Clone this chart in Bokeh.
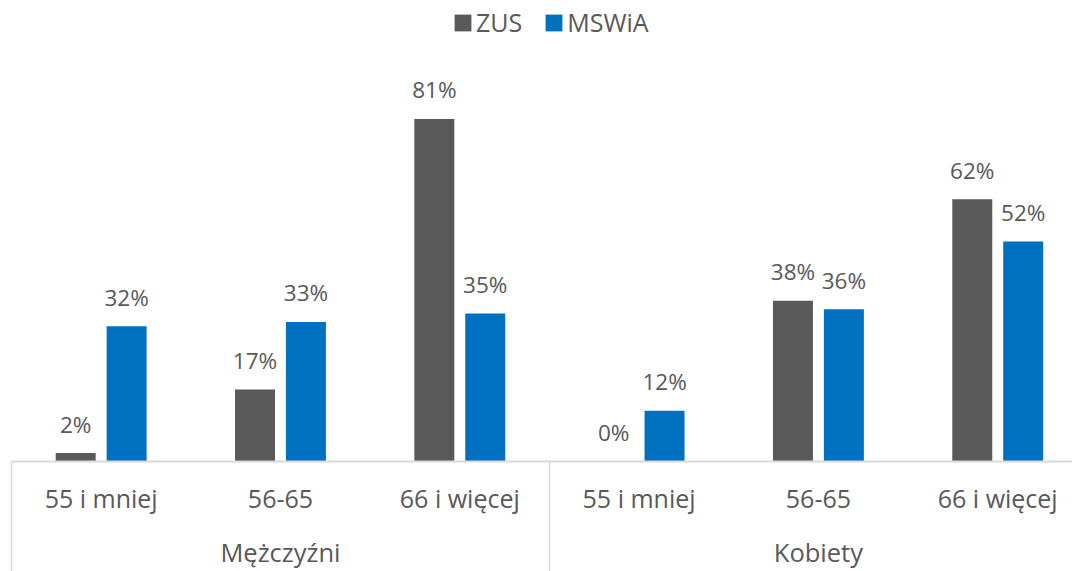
from bokeh.plotting import figure
from bokeh.models import (Range1d, LinearAxis, FixedTicker, Legend, LegendItem,
                          ColumnDataSource)
from bokeh.core.properties import value
from bokeh.embed import file_html
from bokeh.resources import INLINE

# ---- data ----
age_labels = ["55 i mniej", "56-65", "66 i więcej", "55 i mniej", "56-65", "66 i więcej"]
group_labels = ["Mężczyźni", "Kobiety"]
zus = [2, 17, 81, 0, 38, 62]
mswia = [32, 33, 35, 12, 36, 52]
series_names = ["ZUS", "MSWiA"]

GRAY = "#595959"
BLUE = "#0070C0"
TXT = "#595959"
FONT = "Open Sans"

xs = list(range(len(age_labels)))
off = 0.142
bw = 0.223

p = figure(width=1072, height=571, output_backend="svg", toolbar_location=None,
           x_range=Range1d(-0.5, 5.417), y_range=Range1d(0, 109.0),
           min_border_left=11, min_border_right=0, min_border_top=0,
           min_border_bottom=110)
p.xaxis.visible = False
p.yaxis.visible = False
p.xgrid.visible = False
p.ygrid.visible = False
p.outline_line_color = None
p.background_fill_color = "white"
p.border_fill_color = "white"

src_z = ColumnDataSource(dict(x=[x - off for x in xs], top=zus,
                              lab=[f"{v}%" for v in zus]))
src_m = ColumnDataSource(dict(x=[x + off for x in xs], top=mswia,
                              lab=[f"{v}%" for v in mswia]))

rz = p.vbar(x="x", top="top", bottom=0, width=bw, source=src_z,
            fill_color=GRAY, line_color=None)
rm = p.vbar(x="x", top="top", bottom=0, width=bw, source=src_m,
            fill_color=BLUE, line_color=None)

for s in (src_z, src_m):
    p.text(x="x", y="top", text="lab", source=s, text_align="center",
           text_baseline="alphabetic", y_offset=-29, text_color=TXT,
           text_font_size="22.5px", text_font=value(FONT))

# category axis (age groups) with group separators as long minor ticks
ax1 = LinearAxis(ticker=FixedTicker(ticks=xs, minor_ticks=[-0.5, 2.5]),
                 major_label_overrides={i: age_labels[i] for i in xs},
                 axis_line_color="#D9D9D9", axis_line_width=2,
                 major_tick_line_color=None, major_tick_in=0, major_tick_out=0,
                 minor_tick_in=0, minor_tick_out=112,
                 minor_tick_line_color="#D9D9D9", minor_tick_line_width=1.5,
                 major_label_standoff=-93,
                 major_label_text_font=FONT, major_label_text_font_size="25px",
                 major_label_text_color=TXT)
p.add_layout(ax1, "below")

ax2 = LinearAxis(ticker=FixedTicker(ticks=[1, 4], minor_ticks=[]),
                 major_label_overrides={1: group_labels[0], 4: group_labels[1]},
                 axis_line_color=None, major_tick_line_color=None,
                 major_tick_in=0, major_tick_out=0,
                 minor_tick_line_color=None,
                 major_label_standoff=17,
                 major_label_text_font=FONT, major_label_text_font_size="25.5px",
                 major_label_text_color=TXT)
p.add_layout(ax2, "below")

legend = Legend(items=[LegendItem(label=series_names[0], renderers=[rz]),
                       LegendItem(label=series_names[1], renderers=[rm])],
                orientation="horizontal", location=(441, 422),
                glyph_width=21, glyph_height=21, label_standoff=3, spacing=21,
                padding=0, margin=0, border_line_color=None,
                background_fill_alpha=0,
                label_text_font=FONT, label_text_font_size="25px",
                label_text_color=TXT)
p.add_layout(legend, "center")

open("out.html", "w").write(file_html(p, INLINE))
